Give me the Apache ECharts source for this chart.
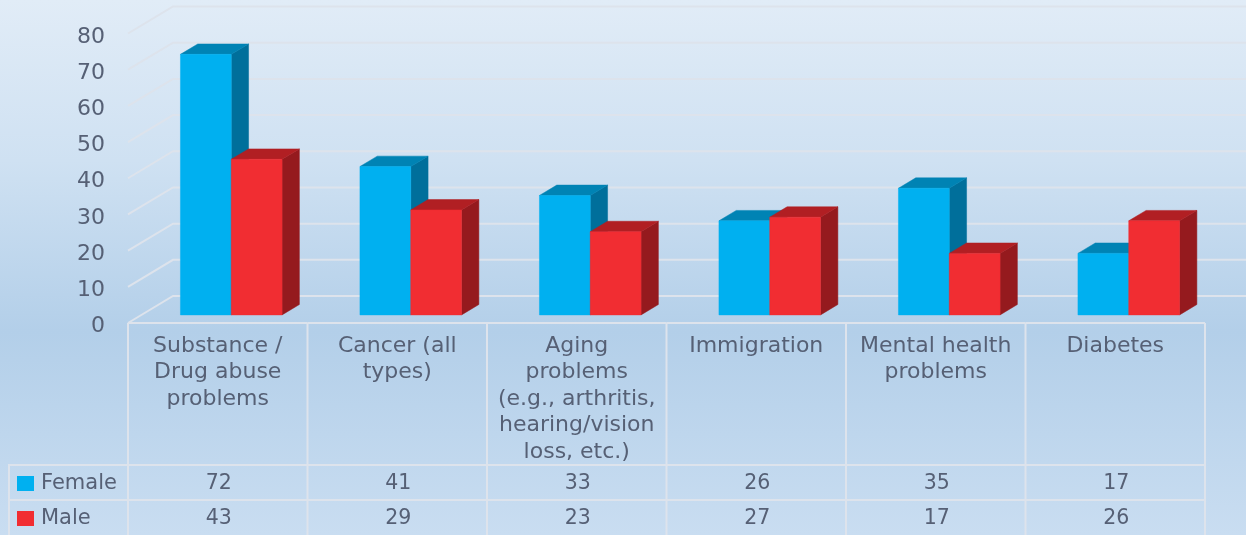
<!DOCTYPE html>
<html><head><meta charset="utf-8">
<style>html,body{margin:0;padding:0;background:#c8dcf0}#c{width:1246px;height:535px;filter:blur(0.5px)}</style>
<script src="https://cdn.jsdelivr.net/npm/echarts@6/dist/echarts.min.js"></script>
</head><body><div id="c"></div>
<script>
const categories = ['Substance /\nDrug abuse\nproblems','Cancer (all\ntypes)','Aging\nproblems\n(e.g., arthritis,\nhearing/vision\nloss, etc.)','Immigration','Mental health\nproblems','Diabetes'];
const female = [72,41,33,26,35,17];
const male = [43,29,23,27,17,26];
const yTicks = [0,10,20,30,40,50,60,70,80];
const FONT = '"DejaVu Sans"', TXT = '#566075', LINE = '#dde3ec';
const D_X = 45, D_Y = 27;           // depth of the floor
const chart = echarts.init(document.getElementById('c'));
function barRender(side, front, top, right){
  return function(params, api){
    const c = api.coord([api.value(0), 0]), t = api.coord([api.value(0), api.value(1)]);
    const band = api.size([1,0])[0], w = band*0.283;
    const x0 = c[0] + D_X*0.3 + (side===0 ? -w : 0), x1 = x0 + w;
    const yb = c[1] - D_Y*0.3, yt = t[1] - D_Y*0.3;
    const dx = D_X*0.385, dy = D_Y*0.385;
    const poly = (points, fill) => ({type:'polygon', shape:{points}, style:{fill, stroke:fill, lineWidth:0.5}});
    return {type:'group', children:[
      poly([[x1,yb],[x1+dx,yb-dy],[x1+dx,yt-dy],[x1,yt]], right),
      poly([[x0,yt],[x0+dx,yt-dy],[x1+dx,yt-dy],[x1,yt]], top),
      poly([[x0,yb],[x1,yb],[x1,yt],[x0,yt]], front)
    ]};
  };
}
function gridRender(params, api){
  const p = api.coord([0, api.value(0)]), band = api.size([1,0])[0];
  const x = p[0]-band/2;
  return {type:'polyline', shape:{points:[[x,p[1]],[x+D_X,p[1]-D_Y],[api.getWidth(),p[1]-D_Y]]},
    style:{stroke:LINE, lineWidth:2, fill:null}};
}
function tableRender(params, api){
  const i = api.value(0), p = api.coord([i,0]), band = api.size([1,0])[0];
  const x0 = p[0]-band/2, x1 = p[0]+band/2, yT = p[1];
  const rows = [yT+142, yT+177, yT+212];
  const line = (a,b,c,d)=>({type:'line', shape:{x1:a,y1:b,x2:c,y2:d}, style:{stroke:LINE, lineWidth:2}});
  const kids = [line(x0,yT,x1,yT), line(x1,yT,x1,rows[2]), line(x0,rows[0],x1,rows[0]), line(x0,rows[1],x1,rows[1])];
  if(i===0){
    kids.push(line(x0,yT,x0,rows[2]), line(8,rows[0],x0,rows[0]), line(8,rows[1],x0,rows[1]), line(9,rows[0],9,rows[2]));
  }
  [female[i], male[i]].forEach((v,k)=>kids.push({type:'text', style:{x:p[0]+1, y:(rows[k]+rows[k+1])/2+1, text:String(v), align:'center', verticalAlign:'middle', font:'20.5px '+FONT, fill:TXT}}));
  return {type:'group', children:kids};
}
chart.setOption({
  animation:false,
  backgroundColor:{type:'linear',x:0,y:0,x2:0,y2:1,colorStops:[{offset:0,color:'#e1ecf7'},{offset:.3,color:'#cfe1f2'},{offset:.62,color:'#b3cfe9'},{offset:1,color:'#c9ddf1'}]},
  grid:{left:128,right:41,top:33.5,bottom:212},
  legend:{data:['Female','Male'],orient:'vertical',left:12,top:468,height:100,itemWidth:17,itemHeight:15,itemGap:14,icon:'rect',
    textStyle:{fontFamily:FONT,fontSize:21,color:TXT,padding:[0,0,0,2]},selectedMode:false},
  xAxis:{type:'category',data:categories,axisLine:{show:false},axisTick:{show:false},splitLine:{show:false},
    axisLabel:{interval:0,fontFamily:FONT,fontSize:22,color:TXT,lineHeight:26.5,margin:10,verticalAlign:'top'}},
  yAxis:{type:'value',min:0,max:80,interval:10,axisLine:{show:false},axisTick:{show:false},splitLine:{show:false},
    axisLabel:{fontFamily:FONT,fontSize:22,color:TXT,margin:23,verticalAlign:'top',lineHeight:7}},
  series:[
    {type:'custom',name:'grid',data:yTicks.map(v=>[v]),renderItem:gridRender,silent:true,z:1,encode:{y:0}},
    {type:'custom',name:'table',data:categories.map((_,i)=>[i]),renderItem:tableRender,silent:true,z:1,encode:{x:0}},
    {type:'custom',name:'Female',itemStyle:{color:'#00b0f0'},data:female.map((v,i)=>[i,v]),renderItem:barRender(0,'#00b0f0','#0083b4','#006f9b'),encode:{x:0,y:1},z:2},
    {type:'custom',name:'Male',itemStyle:{color:'#f12d32'},data:male.map((v,i)=>[i,v]),renderItem:barRender(1,'#f12d32','#b11f23','#951a1e'),encode:{x:0,y:1},z:3}
  ]
});
</script></body></html>
